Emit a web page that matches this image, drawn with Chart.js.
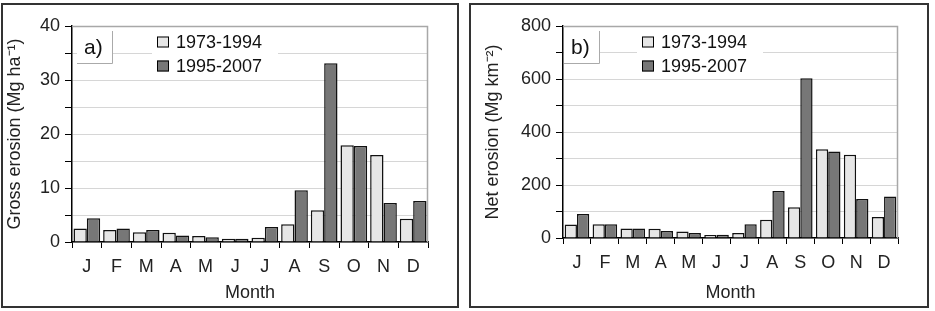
<!DOCTYPE html>
<html>
<head>
<meta charset="utf-8">
<script src="https://cdn.jsdelivr.net/npm/chart.js@4.4.1/dist/chart.umd.min.js"></script>
<style>
  body { margin: 0; background: #fff; }
  .panel { position: absolute; top: 3px; height: 301px; border: 2px solid #333; background: #fff; }
  #pa { left: 1px; width: 454px; }
  #pb { left: 469px; width: 456px; }
</style>
</head>
<body>
<div class="panel" id="pa"><canvas id="chartA"></canvas></div>
<div class="panel" id="pb"><canvas id="chartB"></canvas></div>
<script>
const months = ['J', 'F', 'M', 'A', 'M', 'J', 'J', 'A', 'S', 'O', 'N', 'D'];
const seriesNames = ['1973-1994', '1995-2007'];

// gross erosion, Mg ha-1
const grossEarly = [2.5, 2.2, 1.8, 1.7, 1.1, 0.6, 0.8, 3.3, 5.9, 17.9, 16.1, 4.3];
const grossLate = [4.4, 2.5, 2.2, 1.2, 0.9, 0.6, 2.8, 9.6, 33.1, 17.8, 7.2, 7.6];

// net erosion, Mg km-2
const netEarly = [51, 52, 36, 35, 25, 11, 19, 69, 116, 335, 314, 79];
const netLate = [91, 52, 36, 26, 19, 12, 52, 177, 603, 326, 147, 157];

Chart.defaults.font.family = 'Arial, "Liberation Sans", sans-serif';
Chart.defaults.color = '#222';
Chart.defaults.animation = false;

const panelDeco = {
    id: 'panelDeco',
    beforeDatasetsDraw(chart) {
        const c = chart.ctx, a = chart.chartArea;
        const o = chart.options.plugins.panelDeco;
        c.save();
        // grey frame of the plot area
        c.strokeStyle = '#a8a8a8';
        c.lineWidth = 1.5;
        c.beginPath();
        c.moveTo(a.left, a.top + 0.5);
        c.lineTo(a.right - 0.5, a.top + 0.5);
        c.lineTo(a.right - 0.5, a.bottom);
        c.stroke();
        c.lineWidth = 1;
        // white behind legend
        c.fillStyle = '#fff';
        c.fillRect(a.left + o.legX - 5, a.top + 4, 126, 42);
        // label box a) / b)
        c.fillRect(a.left + o.boxX, a.top + 5, 36, 32);
        c.strokeStyle = '#aaa';
        c.beginPath();
        c.moveTo(a.left + o.boxX + 35.5, a.top + 5);
        c.lineTo(a.left + o.boxX + 35.5, a.top + 37.5);
        c.lineTo(a.left + o.boxX, a.top + 37.5);
        c.stroke();
        c.fillStyle = '#111';
        c.font = '21px Arial, "Liberation Sans", sans-serif';
        c.textBaseline = 'middle';
        c.fillText(o.label, a.left + o.boxX + 7, a.top + 22);
        // legend
        c.font = '18px Arial, "Liberation Sans", sans-serif';
        chart.data.datasets.forEach((ds, i) => {
            const y = a.top + 16 + i * 24;
            c.fillStyle = ds.backgroundColor;
            c.fillRect(a.left + o.legX, y - 5.5, 12, 11);
            c.strokeStyle = '#000';
            c.strokeRect(a.left + o.legX + 0.5, y - 5, 11, 10);
            c.fillStyle = '#111';
            c.fillText(ds.label, a.left + o.legX + 19, y + 1);
        });
        c.restore();
    }
};

function makeChart(id, early, late, yMax, step, labelStep, gridStep, yTitle, layout, deco) {
    return new Chart(document.getElementById(id), {
        type: 'bar',
        data: {
            labels: months,
            datasets: [{
                label: seriesNames[0],
                data: early,
                backgroundColor: '#e6e6e6',
                borderColor: '#111',
                borderWidth: 1.5,
                barPercentage: 1,
                categoryPercentage: layout.cat
            }, {
                label: seriesNames[1],
                data: late,
                backgroundColor: '#777777',
                borderColor: '#111',
                borderWidth: 1.5,
                barPercentage: 1,
                categoryPercentage: layout.cat
            }]
        },
        options: {
            responsive: false,
            layout: { padding: { top: layout.top, right: layout.right, left: 0, bottom: 0 } },
            scales: {
                y: {
                    min: 0,
                    max: yMax,
                    afterFit(s) { s.width = layout.yw; },
                    ticks: {
                        stepSize: step,
                        font: { size: 18 },
                        padding: 5,
                        callback: v => (v % labelStep === 0 ? v : '')
                    },
                    grid: {
                        color: ctx => (ctx.tick && ctx.tick.value % gridStep === 0 ? '#d6d6d6' : 'rgba(0,0,0,0)'),
                        tickColor: '#000',
                        tickLength: 7
                    },
                    border: { color: '#000', width: 1.5 },
                    title: {
                        display: true,
                        text: yTitle,
                        font: { size: 18 },
                        padding: { top: layout.ytp, bottom: 0 }
                    }
                },
                x: {
                    afterFit(s) { s.height = layout.xh; },
                    ticks: { font: { size: 18 }, padding: 8, maxRotation: 0 },
                    grid: {
                        offset: true,
                        drawOnChartArea: false,
                        tickColor: '#000',
                        tickLength: 6
                    },
                    border: { color: '#000', width: 1.5 },
                    title: {
                        display: true,
                        text: 'Month',
                        font: { size: 18 },
                        padding: { top: 2, bottom: 2 }
                    }
                }
            },
            plugins: {
                legend: { display: false },
                tooltip: { enabled: false },
                panelDeco: deco
            }
        },
        plugins: [panelDeco]
    });
}

const ca = document.getElementById('chartA');
ca.width = 454; ca.height = 301;
const cb = document.getElementById('chartB');
cb.width = 456; cb.height = 301;

makeChart('chartA', grossEarly, grossLate, 40, 5, 10, 5, 'Gross erosion (Mg ha⁻¹)',
    { top: 21, right: 29, yw: 69, xh: 64, ytp: 1, cat: 0.9 },
    { label: 'a)', boxX: 5, legX: 85 });

makeChart('chartB', netEarly, netLate, 800, 50, 200, 100, 'Net erosion (Mg km⁻²)',
    { top: 21, right: 29, yw: 92, xh: 68, ytp: 11, cat: 0.88 },
    { label: 'b)', boxX: 1, legX: 79 });
</script>
</body>
</html>
